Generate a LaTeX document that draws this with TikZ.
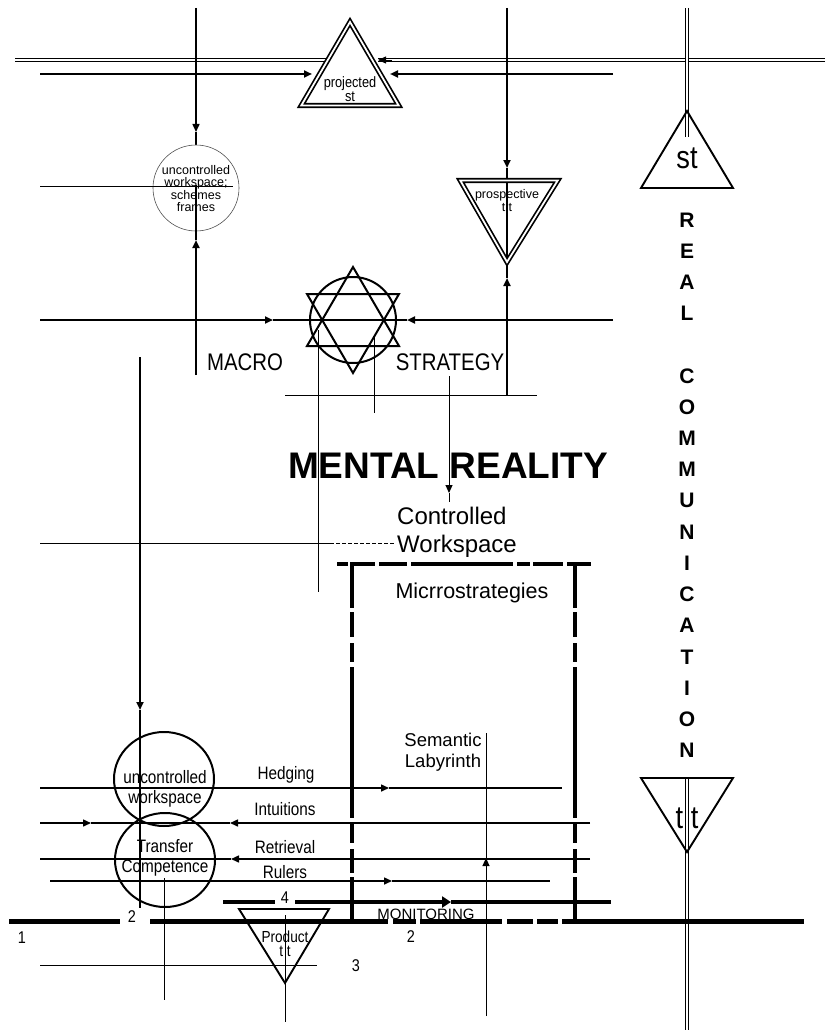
\documentclass[tikz,border=0pt]{standalone}
\usepackage{fontspec}
\setmainfont{Liberation Sans}
\newfontfamily\narrowsf[FakeStretch=0.85]{Liberation Sans}
\usepackage{tikz}
\usetikzlibrary{arrows.meta,shapes.geometric}
\definecolor{ink}{RGB}{0,0,0}
\definecolor{faint}{RGB}{80,80,80}
\newcommand{\nf}[1]{\narrowsf\fontsize{#1}{#1}\selectfont}
\newcommand{\rf}[1]{\fontsize{#1}{#1}\selectfont}
\tikzset{
  heavy/.style={ink, line width=2pt},
  light/.style={ink, line width=1.5pt},
  hair/.style={ink, line width=1pt},
  tip/.style={-{Triangle[length=8pt,width=7pt]}},
  twin/.style={ink, double, double distance=1.4pt, line width=1.1pt},
  twintri/.style={ink, double, double distance=1.8pt, line width=1.7pt, line join=miter},
  tri/.style={ink, line width=1.9pt, line join=miter},
  boxedge/.style={ink, line width=4.5pt},
  rail/.style={ink, line width=5pt},
  txt/.style={inner sep=0pt, anchor=base},
  letter/.style={inner sep=0pt, font=\bfseries\rf{21}},
  blob/.style={ellipse, draw=ink, line width=2pt, minimum width=100pt, minimum height=94pt, inner sep=0pt},
}

\begin{document}
\begin{tikzpicture}[x=1pt,y=-1pt]
  \useasboundingbox (0,0) rectangle (825,1030);

  % top rails and projected st
  \draw[twin] (15,60) -- (329,60);
  \draw[twin] (825,60) -- (378,60);
  \draw[tip, line width=0.8pt] (392,60) -- (378,60);
  \draw[heavy,tip] (40,74) -- (312,74);
  \draw[heavy,tip] (613,74) -- (390,74);
  \draw[twintri] (350,22) -- (398.7,105.5) -- (301.3,105.5) -- cycle;
  \node[txt, font=\nf{15}] (proj1) at (350,88) {projected};
  \node[txt, font=\nf{15}] (proj2) at (350,102) {st};

  % uncontrolled workspace (schemes, frames)
  \draw[light,tip] (196,8) -- (196,132);
  \draw[light] (196,132) -- (196,145);
  \node[circle, draw=faint, line width=0.6pt, minimum size=86pt, inner sep=0pt] (uws) at (196,188) {};
  \node[txt, font=\rf{12.5}] (uws1) at (196,174) {uncontrolled};
  \node[txt, font=\rf{12.5}] (uws2) at (196,186.5) {workspace;};
  \node[txt, font=\rf{12.5}] (uws3) at (196,199) {schemes};
  \node[txt, font=\rf{12.5}] (uws4) at (196,211.5) {frames};
  \draw[hair] (40,186) -- (233,186);
  \draw[heavy,tip] (196,375) -- (196,240);
  \draw[heavy] (196,240) -- (196,185);

  % prospective tt
  \draw[heavy,tip] (507,8) -- (507,168);
  \draw[heavy] (507,168) -- (507,262);
  \draw[heavy,tip] (507,395) -- (507,278);
  \draw[heavy] (507,278) -- (507,262);
  \draw[twintri] (460.3,180.5) -- (557.7,180.5) -- (507,262) -- cycle;
  \node[txt, font=\rf{12.5}] (pros1) at (507,198) {prospective};
  \node[txt, font=\rf{12.5}] (pros2) at (507,211) {t t};

  % real communication
  \draw[twin] (687,8) -- (687,137);
  \draw[tri] (687,111) -- (733,188) -- (641,188) -- cycle;
  \node[txt, font=\nf{32}] (st) at (687,168) {st};
  \foreach \ch [count=\i from 0] in {R,E,A,L,{},C,O,M,M,U,N,I,C,A,T,I,O,N}
    \node[letter] (rc\i) at (687,220+31.2*\i) {\ch};
  \draw[twin] (687,778) -- (687,1030);
  \draw[tri] (641,778) -- (733,778) -- (687,852) -- cycle;
  \node[txt, font=\nf{32}] (tt) at (687,828) {t t};

  % macro strategy star
  \draw[heavy] (353,320) circle[radius=43pt];
  \draw[heavy, line join=miter] (353,267) -- (399,346) -- (307,346) -- cycle;
  \draw[heavy, line join=miter] (353,373) -- (399,294) -- (307,294) -- cycle;
  \draw[heavy,tip] (40,320) -- (273,320);
  \draw[heavy] (273,320) -- (407,320);
  \draw[heavy,tip] (613,320) -- (407,320);
  \node[txt, font=\nf{24}] (macro) at (245,370) {MACRO};
  \node[txt, font=\nf{24}] (strategy) at (450,370) {STRATEGY};
  \draw[hair] (285,395) -- (537,395);
  \draw[hair] (318,330) -- (318,592);
  \draw[hair] (374,337) -- (374,413);
  \draw[hair,tip] (449,376) -- (449,493);
  \draw[hair] (449,493) -- (449,502);

  % mental reality
  \node[txt, font=\bfseries\rf{37}] (mental) at (448,478) {MENTAL REALITY};
  \node[txt, anchor=base west, font=\rf{24}] (ctrl1) at (397,524) {Controlled};
  \node[txt, anchor=base west, font=\rf{24}] (ctrl2) at (397,552) {Workspace};
  \draw[hair] (40,543) -- (330,543);
  \draw[hair, dash pattern=on 4pt off 2pt] (330,543) -- (395,543);
  \draw[heavy,tip] (140,357) -- (140,710);
  \draw[heavy] (140,710) -- (140,908);

  % microstrategies box
  \draw[boxedge, dash pattern=on 11pt off 4pt on 23pt off 4pt on 28pt off 4pt on 102pt off 4pt on 13pt off 3pt on 30pt off 4pt on 30pt]
    (337,564) -- (591,564);
  \foreach \x in {352,575}
    \draw[boxedge, line width=4pt, dash pattern=on 46pt off 4pt on 25pt off 6pt on 19pt off 5pt on 151pt off 4pt on 21pt off 6pt on 24pt off 4pt on 60pt]
      (\x,562) -- (\x,921);
  \node[txt, font=\rf{21.5}] (micro) at (472,598) {Micrrostrategies};
  \node[txt, font=\rf{18.5}] (sem1) at (443,746) {Semantic};
  \node[txt, font=\rf{18.5}] (sem2) at (443,767) {Labyrinth};
  \draw[hair,tip] (486,1016) -- (486,858);
  \draw[hair] (486,858) -- (486,733);

  % strategies flowing through the workspace
  \draw[light,tip] (40,788) -- (389,788);
  \draw[light] (389,788) -- (562,788);
  \draw[light,tip] (40,823) -- (91,823);
  \draw[light] (91,823) -- (230,823);
  \draw[light,tip] (590,823) -- (230,823);
  \draw[light] (40,859) -- (231,859);
  \draw[light,tip] (590,859) -- (231,859);
  \draw[light,tip] (50,881) -- (392,881);
  \draw[light] (392,881) -- (550,881);
  \node[txt, font=\nf{18}] (hedging) at (286,779) {Hedging};
  \node[txt, font=\nf{18}] (intuitions) at (285,815) {Intuitions};
  \node[txt, font=\nf{18}] (retrieval) at (285,853) {Retrieval};
  \node[txt, font=\nf{18}] (rulers) at (285,878) {Rulers};

  \node[blob] (ucw) at (164,779) {};
  \node[blob] (tc) at (165,860) {};
  \node[txt, font=\nf{18}] (ucw1) at (165,783) {uncontrolled};
  \node[txt, font=\nf{18}] (ucw2) at (165,803) {workspace};
  \node[txt, font=\nf{18}] (tc1) at (165,852) {Transfer};
  \node[txt, font=\nf{18}] (tc2) at (165,872) {Competence};
  \draw[hair] (164,878) -- (164,1000);

  % monitoring rails
  \draw[ink, line width=4.5pt] (223,902) -- (275,902);
  \draw[ink, line width=4.5pt, -{Triangle[length=9pt,width=11pt]}] (295,902) -- (451,902);
  \draw[ink, line width=4.5pt] (451,902) -- (611,902);
  \draw[rail] (9,921) -- (120,921);
  \draw[rail] (150,921) -- (360,921);
  \draw[rail, dash pattern=on 28pt off 5pt on 23pt off 4pt on 82pt off 5pt on 26pt off 4pt on 21pt off 4pt on 260pt]
    (360,921) -- (804,921);
  \node[txt, font=\nf{17}] (n4) at (285,903) {4};
  \node[txt, font=\nf{17}] (n2a) at (132,922) {2};
  \node[txt, font=\nf{17}] (n1) at (22,943) {1};
  \node[txt, font=\rf{15}] (monitoring) at (426,919) {MONITORING};
  \node[txt, font=\nf{17}] (n2b) at (411,942) {2};
  \node[txt, font=\nf{17}] (n3) at (356,971) {3};

  % product tt
  \draw[tri] (239,909) -- (329,909) -- (285,983) -- cycle;
  \node[txt, font=\nf{16}] (prod1) at (285,942) {Product};
  \node[txt, font=\nf{16}] (prod2) at (285,956) {t t};
  \draw[hair] (285,915) -- (285,1022);
  \draw[hair] (40,965) -- (317,965);
\end{tikzpicture}
\end{document}
